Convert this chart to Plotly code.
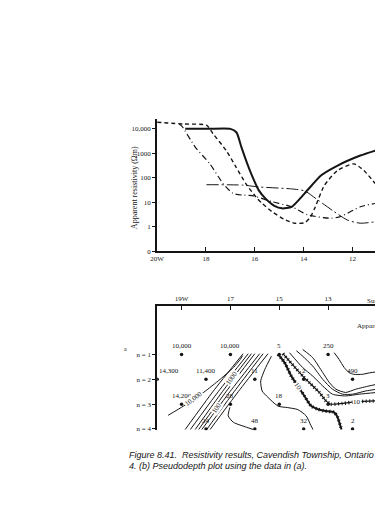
import plotly.graph_objects as go

# ---------------- (a) apparent resistivity profiles ----------------
top_tick_vals = [20, 18, 16, 14, 12]
top_tick_text = ["20W", "18", "16", "14", "12"]
rho_tick_vals = [0.1, 1, 10, 100, 1000, 10000]
rho_tick_text = ["0", "1", "10", "100", "1000", "10,000"]

solid_x = [18.85, 17.9, 17.0, 16.75, 16.55, 16.3, 16.1, 15.85, 15.56, 15.2, 14.89, 14.49, 13.96, 13.28, 12.61, 11.68, 11.07]
solid_rho = [10000, 10000, 10000, 7100, 1800, 355, 112, 32, 14, 7.1, 5.6, 6.5, 23, 126, 316, 810, 1290]

dash_x = [20.0, 18.91, 17.98, 17.71, 17.17, 16.77, 16.37, 15.96, 15.7, 15.3, 14.8, 14.36, 13.95, 13.72, 13.55, 13.15, 12.61, 11.94, 11.54, 11.07]
dash_rho = [18600, 15800, 14100, 6300, 1290, 275, 58, 16.6, 8.9, 4.1, 2.0, 1.38, 1.45, 2.5, 5.6, 49, 200, 370, 200, 58]

dashdot_x = [19.1, 18.98, 18.44, 17.84, 17.30, 16.90, 16.5, 16.1, 15.3, 14.49, 13.82, 12.88, 12.48, 11.68, 11.07]
dashdot_rho = [15800, 12600, 1800, 370, 58, 23, 19.5, 18.6, 10.5, 6.5, 3.0, 2.2, 2.6, 6.5, 8.9]

thin_x = [17.98, 16.5, 15.83, 14.5, 13.96, 13.42, 12.75, 12.21, 11.68, 11.07]
thin_rho = [52, 50, 42, 35, 29, 12.3, 4.1, 1.86, 1.38, 1.58]

# ---------------- (b) pseudodepth plot ----------------
bot_tick_vals = [19, 17, 15, 13]
bot_tick_text = ["19W", "17", "15", "13"]
n_levels = [1, 2, 3, 4]
n_text = ["n = 1", "n = 2", "n = 3", "n = 4"]

pt_station = [19, 17, 15, 13, 11, 20, 18, 16, 14, 12, 19, 17, 15, 13, 11, 18, 16, 14, 12]
pt_n = [1, 1, 1, 1, 1, 2, 2, 2, 2, 2, 3, 3, 3, 3, 3, 4, 4, 4, 4]
pt_rho = [10000, 10000, 5, 250, 17, 14300, 11400, 11, 2, 490, 14200, 28, 18, 3, 30, 24, 48, 32, 2]

c10000_x = [19.55, 18.91, 18.10, 17.42, 16.88, 16.6, 16.5]
c10000_n = [3.45, 3.07, 2.53, 2.0, 1.53, 1.2, 1.05]

bundle_bottom_x = [18.85, 18.64, 18.44, 18.30, 18.17, 17.97, 17.83]
bundle_mid_x = [17.72, 17.50, 17.33, 17.18, 17.02, 16.85, 16.68]
bundle_top_x = [16.48, 16.27, 16.14, 16.00, 15.80, 15.66, 15.46]
bundle_n = [4.02, 2.5, 0.97]

c28_x = [17.02, 17.09, 16.88, 16.34, 16.07]
c28_n = [3.13, 3.47, 3.73, 3.93, 4.02]

c11_x = [15.32, 15.59, 15.76, 15.70, 15.46, 15.05, 14.65, 14.24, 13.90, 13.70, 13.62]
c11_n = [1.07, 1.60, 2.07, 2.47, 2.73, 3.08, 3.14, 3.22, 3.47, 3.87, 4.02]

heavy_x = [15.05, 14.78, 14.51, 14.24, 13.97, 13.70, 13.43, 13.16, 12.75, 12.61, 12.48, 12.45]
heavy_n = [1.0, 1.33, 1.87, 2.27, 2.67, 3.07, 3.2, 3.27, 3.33, 3.53, 3.93, 4.02]

cd_x = [14.85, 14.04, 13.77, 13.36, 13.09, 12.89, 12.41, 11.80, 11.0]
cd_n = [0.97, 1.87, 2.13, 2.53, 2.87, 3.0, 2.97, 2.9, 2.87]

cc_x = [14.58, 14.04, 13.63, 13.22, 12.82, 12.28, 11.73, 11.0]
cc_n = [0.93, 1.53, 1.87, 2.27, 2.6, 2.67, 2.6, 2.53]

cb_x = [14.3, 14.04, 13.63, 13.22, 12.82, 12.41, 12.0, 11.46, 11.0]
cb_n = [0.85, 1.07, 1.47, 2.0, 2.40, 2.6, 2.6, 2.47, 2.4]

ca_x = [14.04, 13.63, 13.22, 12.95, 12.68, 12.28, 11.87, 11.33, 11.0]
ca_n = [0.8, 1.13, 1.73, 2.13, 2.4, 2.53, 2.4, 2.27, 2.2]

c250_x = [12.75, 12.55, 12.34, 12.14, 11.95, 11.6, 11.3, 11.0]
c250_n = [0.93, 1.2, 1.53, 1.73, 1.8, 1.8, 1.74, 1.7]

INK = "#151515"
FONT = "Liberation Serif"

fig = go.Figure()

def top_line(x, y, width, dash):
    fig.add_trace(go.Scatter(x=x, y=y, mode="lines", xaxis="x", yaxis="y",
                             line=dict(color=INK, width=width, dash=dash, shape="spline", smoothing=0.6),
                             hoverinfo="skip"))

top_line(solid_x, solid_rho, 2.0, "solid")
top_line(dash_x, dash_rho, 1.4, "4px,3px")
top_line(dashdot_x, dashdot_rho, 1.2, "6px,3px,1px,3px")
top_line(thin_x, thin_rho, 1.0, "12px,3px,2px,3px")

def bot_line(x, y, width=1.0, hatch=False):
    fig.add_trace(go.Scatter(x=x, y=y, mode="lines", xaxis="x2", yaxis="y2",
                             line=dict(color=INK, width=width, shape="spline", smoothing=0.6),
                             hoverinfo="skip"))
    if hatch:
        fig.add_trace(go.Scatter(x=x, y=y, mode="lines", xaxis="x2", yaxis="y2",
                                 line=dict(color=INK, width=3.5, dash="1px,2.5px", shape="spline", smoothing=0.6),
                                 hoverinfo="skip"))

bot_line(c10000_x, c10000_n)
for xb, xm, xt in zip(bundle_bottom_x, bundle_mid_x, bundle_top_x):
    bot_line([xb, xm, xt], bundle_n)
bot_line(c28_x, c28_n)
bot_line(c11_x, c11_n)
bot_line(heavy_x, heavy_n, 2.0, hatch=True)
bot_line(cd_x, cd_n, 1.2, hatch=True)
bot_line(cc_x, cc_n)
bot_line(cb_x, cb_n)
bot_line(ca_x, ca_n)
bot_line(c250_x, c250_n)

fig.add_trace(go.Scatter(x=pt_station, y=pt_n, mode="markers", xaxis="x2", yaxis="y2",
                         marker=dict(color=INK, size=3.5, symbol="circle"), hoverinfo="skip"))

annotations = []
for s, n, v in zip(pt_station, pt_n, pt_rho):
    annotations.append(dict(x=s, y=n, xref="x2", yref="y2", text=f"{v:,}", showarrow=False,
                            yshift=8, xanchor="left" if s == 20 else "center",
                            font=dict(size=7, family=FONT, color=INK)))

contour_labels = [("10,000", 18.51, 2.8, -37), ("1000", 16.95, 1.93, -55),
                  ("100", 17.56, 3.15, -55), ("10", 14.22, 2.3, 57), ("10", 11.8, 2.92, 0)]
for t, x, y, ang in contour_labels:
    annotations.append(dict(x=x, y=y, xref="x2", yref="y2", text=t, showarrow=False, textangle=ang,
                            bgcolor="white", borderpad=0, font=dict(size=7, family=FONT, color=INK)))

annotations += [
    dict(x=130 / 375, y=1 - 189 / 530, xref="paper", yref="paper", text="Apparent resistivity (Ωm)",
         textangle=-90, showarrow=False, font=dict(size=8, family=FONT, color=INK)),
    dict(x=365 / 375, y=1 - 303 / 530, xref="paper", yref="paper", text="Survey line", xanchor="left",
         showarrow=False, font=dict(size=7, family=FONT, color=INK)),
    dict(x=355 / 375, y=1 - 328 / 530, xref="paper", yref="paper", text="Apparent resistivity", xanchor="left",
         showarrow=False, font=dict(size=7, family=FONT, color=INK)),
    dict(x=117 / 375, y=1 - 352 / 530, xref="paper", yref="paper", text="a",
         showarrow=False, font=dict(size=6, family=FONT, color=INK)),
    dict(x=122 / 375, y=1 - 466 / 530, xref="paper", yref="paper", xanchor="left",
         text="<i>Figure 8.41.  Resistivity results, Cavendish Township, Ontario</i>",
         showarrow=False, font=dict(size=9, family="Liberation Sans", color=INK)),
    dict(x=122 / 375, y=1 - 477 / 530, xref="paper", yref="paper", xanchor="left",
         text="<i>4. (b) Pseudodepth plot using the data in (a).</i>",
         showarrow=False, font=dict(size=9, family="Liberation Sans", color=INK)),
]

axis_common = dict(showgrid=False, zeroline=False, showline=True, linecolor=INK, tickcolor=INK,
                   tickfont=dict(size=7, family=FONT, color=INK))

fig.update_layout(
    width=375, height=530, margin=dict(l=0, r=0, t=0, b=0),
    paper_bgcolor="white", plot_bgcolor="white", showlegend=False,
    font=dict(family=FONT, size=7, color=INK),
    xaxis=dict(domain=[153 / 375, 1], range=[20, 11.08], anchor="y", linewidth=2,
               ticks="inside", ticklen=4, tickwidth=1, tickvals=top_tick_vals, ticktext=top_tick_text,
               **axis_common),
    yaxis=dict(domain=[1 - 253 / 530, 1 - 120 / 530], type="log", range=[-1, 4.4], anchor="x", linewidth=2,
               ticks="outside", ticklen=3, tickwidth=1, tickvals=rho_tick_vals, ticktext=rho_tick_text,
               **axis_common),
    xaxis2=dict(domain=[153 / 375, 1], range=[20, 11.08], anchor="y2", side="top", linewidth=2,
                ticks="inside", ticklen=4, tickwidth=1, tickvals=bot_tick_vals, ticktext=bot_tick_text,
                **axis_common),
    yaxis2=dict(domain=[1 - 433.5 / 530, 1 - 308.3 / 530], range=[4.05, -0.95], anchor="x2", linewidth=1.6,
                ticks="outside", ticklen=3, tickwidth=1, tickvals=n_levels, ticktext=n_text,
                **axis_common),
    annotations=annotations,
)

fig.write_html("out.html")
